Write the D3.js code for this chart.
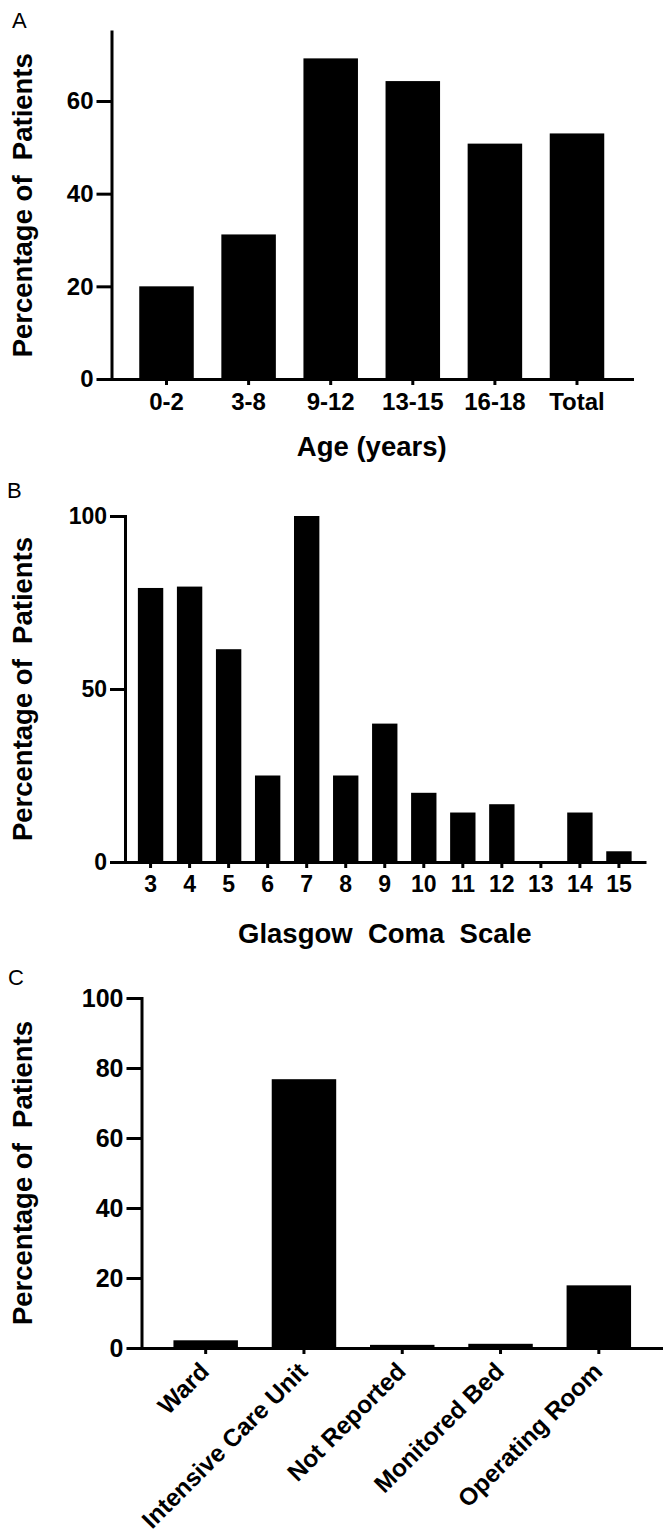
<!DOCTYPE html>
<html><head><meta charset="utf-8">
<script src="https://cdn.jsdelivr.net/npm/d3@7"></script>
<style>
html,body{margin:0;padding:0;background:#fff;}
svg{display:block;}
text{font-family:"Liberation Sans",Arial,Helvetica,sans-serif;}
</style></head><body>
<svg id="chart" width="663" height="1538"></svg>
<script>
// ---- Data ----
const ageCategories = ["0-2", "3-8", "9-12", "13-15", "16-18", "Total"];
const ageValues = [20, 31.2, 69.2, 64.3, 50.8, 53.0];
const ageTicks = [0, 20, 40, 60];

const gcsCategories = ["3", "4", "5", "6", "7", "8", "9", "10", "11", "12", "13", "14", "15"];
const gcsValues = [79.2, 79.6, 61.5, 25, 100, 25, 40, 20, 14.3, 16.7, 0, 14.3, 3.1];
const gcsTicks = [0, 50, 100];

const dispCategories = ["Ward", "Intensive Care Unit", "Not Reported", "Monitored Bed", "Operating Room"];
const dispValues = [2.2, 76.8, 0.9, 1.2, 17.9];
const dispTicks = [0, 20, 40, 60, 80, 100];

const yTitle = "Percentage of\u00A0 Patients";

const svg = d3.select("#chart");

function panel(o) {
  const g = svg.append("g");
  const x = d3.scaleBand().domain(o.categories).range(o.xRange)
    .paddingInner(o.pi).paddingOuter(o.po);
  const y = d3.scaleLinear().domain([0, o.yMax]).range(o.yRange);

  // bars
  g.selectAll("rect.bar").data(o.values).join("rect")
    .attr("class", "bar")
    .attr("x", (d, i) => x(o.categories[i]))
    .attr("width", x.bandwidth())
    .attr("y", d => y(d))
    .attr("height", d => y(0) - y(d))
    .attr("fill", "#000");

  // y axis
  const gy = g.append("g").attr("transform", `translate(${o.xRange[0]},0)`)
    .call(d3.axisLeft(y).tickValues(o.ticks).tickSize(15).tickSizeOuter(0).tickPadding(3));
  // x axis
  const gx = g.append("g").attr("transform", `translate(0,${o.yRange[0]})`)
    .call(d3.axisBottom(x).tickSize(6).tickSizeOuter(0).tickPadding(o.xPad || 8));

  [gx, gy].forEach(a => {
    a.attr("font-family", null).attr("font-size", null);
    a.selectAll("path,line").attr("stroke", "#000").attr("stroke-width", 3);
    a.select("path.domain").attr("stroke-linecap", "square");
  });
  gy.selectAll(".tick text").attr("font-size", o.yTickFont).attr("font-weight", "bold").attr("fill", "#000");
  gx.selectAll(".tick text").attr("font-size", o.xTickFont).attr("font-weight", "bold").attr("fill", "#000");

  if (o.rotate) {
    gx.selectAll(".tick text").attr("x", null).attr("y", null).attr("dy", null)
      .attr("text-anchor", "end").attr("transform", "translate(5,25) rotate(-45)");
  }

  // y title
  const cy = (o.yRange[0] + o.yRange[1]) / 2;
  g.append("text").attr("transform", `translate(32,${cy}) rotate(-90)`)
    .attr("text-anchor", "middle").attr("font-size", 27.5).attr("font-weight", "bold")
    .text(yTitle);

  // x title
  if (o.xTitle) {
    g.append("text").attr("x", (o.xRange[0] + o.xRange[1]) / 2).attr("y", o.xTitleY)
      .attr("text-anchor", "middle").attr("font-size", 27.5).attr("font-weight", "bold")
      .text(o.xTitle);
  }
  // panel letter
  g.append("text").attr("x", o.letterX).attr("y", o.letterY).attr("font-size", 22)
    .text(o.letter);
}

panel({
  categories: ageCategories, values: ageValues, ticks: ageTicks,
  xRange: [111.5, 632], yRange: [379, 31.5], yMax: 75, pi: 0.336, po: 0.338,
  yTickFont: 24, xTickFont: 24, xTitle: "Age (years)", xTitleY: 456,
  letter: "A", letterX: 12, letterY: 28
});

panel({
  categories: gcsCategories, values: gcsValues, ticks: gcsTicks,
  xRange: [125, 644.5], yRange: [862, 516], yMax: 100, pi: 0.35, po: 0.33,
  yTickFont: 23, xTickFont: 23, xTitle: "Glasgow\u00A0 Coma\u00A0 Scale", xTitleY: 943,
  letter: "B", letterX: 7, letterY: 498
});

panel({
  categories: dispCategories, values: dispValues, ticks: dispTicks,
  xRange: [141.5, 663], yRange: [1348, 998], yMax: 100, pi: 0.344, po: 0.325,
  yTickFont: 25, xTickFont: 24.5, rotate: true,
  letter: "C", letterX: 8, letterY: 985
});
</script>
</body></html>
